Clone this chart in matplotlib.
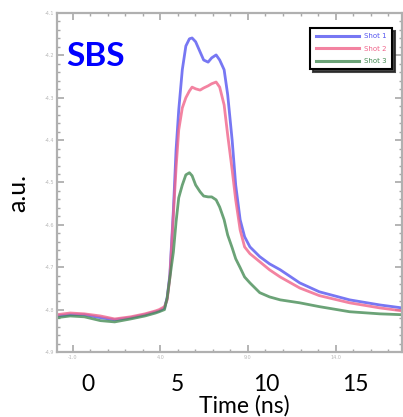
import matplotlib
matplotlib.use('Agg')
import matplotlib.pyplot as plt
from matplotlib.ticker import FixedLocator, MultipleLocator, AutoMinorLocator

# time axis (ns) shared by the three shots
time = [-1.75, -1.0, -0.2, 0.7, 1.5, 2.4, 3.2, 3.8, 4.0, 4.3,
        4.45, 4.6, 4.8, 4.95, 5.1, 5.3, 5.5, 5.7, 5.85, 6.05,
        6.3, 6.5, 6.75, 6.95, 7.2, 7.4, 7.65, 7.85, 8.1, 8.3,
        8.55, 8.8, 9.1, 9.65, 10.2, 10.8, 11.9, 13.0, 14.7, 16.4, 17.65]

shot1 = [-4.815, -4.812, -4.812, -4.819, -4.824, -4.819, -4.812, -4.805, -4.803, -4.796,
         -4.772, -4.718, -4.565, -4.423, -4.329, -4.234, -4.178, -4.161, -4.159, -4.168,
         -4.192, -4.211, -4.216, -4.206, -4.199, -4.211, -4.234, -4.293, -4.400, -4.506,
         -4.588, -4.628, -4.652, -4.675, -4.692, -4.706, -4.737, -4.758, -4.777, -4.789, -4.796]

shot2 = [-4.812, -4.808, -4.810, -4.815, -4.822, -4.817, -4.810, -4.803, -4.800, -4.793,
         -4.777, -4.725, -4.576, -4.466, -4.376, -4.324, -4.300, -4.284, -4.275, -4.279,
         -4.282, -4.277, -4.272, -4.267, -4.263, -4.275, -4.317, -4.388, -4.470, -4.541,
         -4.612, -4.652, -4.668, -4.687, -4.706, -4.723, -4.749, -4.767, -4.784, -4.796, -4.803]

shot3 = [-4.819, -4.815, -4.817, -4.826, -4.829, -4.822, -4.815, -4.808, -4.805, -4.800,
         -4.772, -4.725, -4.664, -4.593, -4.536, -4.506, -4.482, -4.477, -4.484, -4.506,
         -4.522, -4.532, -4.534, -4.534, -4.541, -4.558, -4.588, -4.624, -4.654, -4.680,
         -4.701, -4.723, -4.737, -4.760, -4.770, -4.777, -4.784, -4.793, -4.805, -4.810, -4.812]

labels = ['Shot 1', 'Shot 2', 'Shot 3']
colors = ['#5555f0', '#f0648a', '#468c55']

# small (blurry) tick labels of the original instrument plot
small_xticks = [-0.85, 4.07, 8.99, 13.91]
small_xlabels = ['-1.0', '4.0', '9.0', '14.0']
small_yticks = [-4.9, -4.8, -4.7, -4.6, -4.5, -4.4, -4.3, -4.2, -4.1]

# big overlaid labels
big_xticks = [0, 5, 10, 15]

fig = plt.figure(figsize=(4.03, 4.17), dpi=100)
ax = fig.add_axes([0.1414, 0.1559, 0.856, 0.813])

for y, lab, c in zip([shot1, shot2, shot3], labels, colors):
    ax.plot(time, y, color=c, lw=2.0, alpha=0.8, label=lab)

ax.set_xlim(-1.74, 17.64)
ax.set_ylim(-4.9, -4.1)

for s in ax.spines.values():
    s.set_color('#b0b0b0')
    s.set_linewidth(1.6)

ax.xaxis.set_major_locator(FixedLocator(small_xticks))
ax.set_xticklabels(small_xlabels)
ax.xaxis.set_minor_locator(AutoMinorLocator(5))
ax.yaxis.set_major_locator(FixedLocator(small_yticks))
ax.set_yticklabels(['%.1f' % v for v in small_yticks])
ax.yaxis.set_minor_locator(MultipleLocator(0.02))
ax.tick_params(which='both', direction='in', top=True, right=True,
               color='#a8a8a8', labelsize=3.5, labelcolor='#b8b8b8', pad=2)
ax.tick_params(which='major', length=5, width=1.2)
ax.tick_params(which='minor', length=2.5, width=1.0)

sec = ax.secondary_xaxis('bottom')
sec.set_xticks(big_xticks)
sec.set_xticklabels([str(v) for v in big_xticks], family='Lato')
sec.tick_params(length=0, labelsize=16.5, pad=15.5, labelcolor='black')
sec.spines['bottom'].set_visible(False)

fig.text(0.605, 0.028, 'Time (ns)', family='Lato', fontsize=16.5,
         ha='center', va='center')
fig.text(0.045, 0.537, 'a.u.', family='Lato', fontsize=18, rotation=90,
         ha='center', va='center')
ax.text(0.028, 0.872, 'SBS', transform=ax.transAxes, family='Lato',
        fontweight='bold', fontsize=24, color='#0000ff', ha='left', va='center')

leg = ax.legend(loc='upper right', bbox_to_anchor=(0.971, 0.956), borderaxespad=0,
                fontsize=5, handlelength=6.2, labelspacing=0.95, borderpad=0.75,
                fancybox=False, shadow={'color': '0.15', 'alpha': 0.85},
                framealpha=1, edgecolor='black', labelcolor='linecolor')
leg.get_frame().set_linewidth(1.5)
for line in leg.get_lines():
    line.set_linewidth(2.2)

plt.savefig('out.png', dpi=100)
